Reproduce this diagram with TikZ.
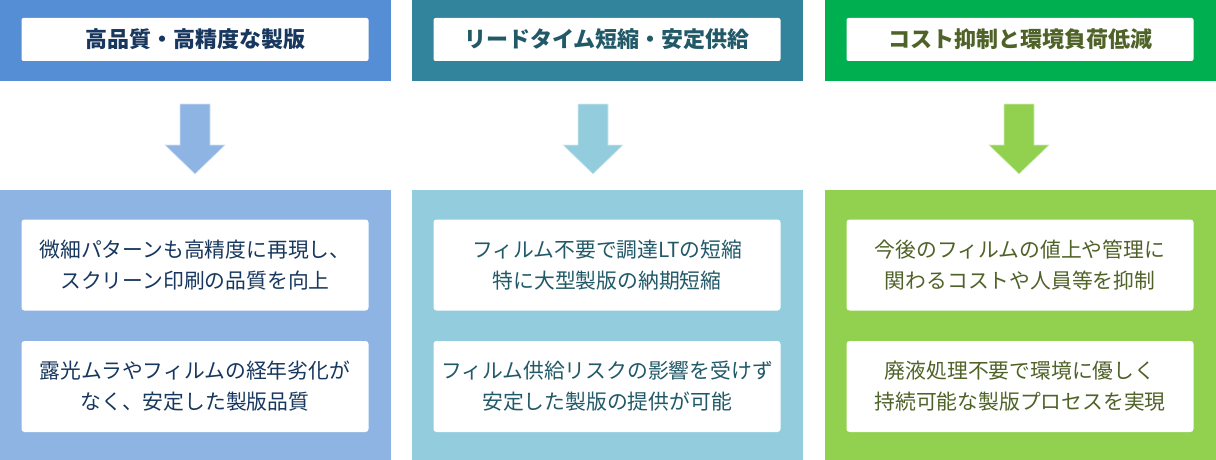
\documentclass[tikz,border=0pt]{standalone}
\usepackage{fontspec}
\setmainfont{Noto Sans CJK JP}
\usetikzlibrary{positioning}
\definecolor{headA}{HTML}{558ED5}
\definecolor{bodyA}{HTML}{8EB4E3}
\definecolor{textA}{HTML}{17375E}
\definecolor{headB}{HTML}{31849B}
\definecolor{bodyB}{HTML}{93CDDD}
\definecolor{textB}{HTML}{215968}
\definecolor{headC}{HTML}{00B050}
\definecolor{bodyC}{HTML}{92D050}
\definecolor{textC}{HTML}{4F6228}
\tikzset{
  titlebox/.style={fill=white,rounded corners=2pt,minimum width=347pt,minimum height=43pt,
    inner sep=0pt,font=\fontsize{22}{26}\selectfont\bfseries},
  itembox/.style={fill=white,rounded corners=3pt,minimum width=347pt,minimum height=91pt,
    inner sep=0pt,align=center,font=\fontsize{20.8}{31}\selectfont},
  blockarrow/.style={draw=white!60!#1,line width=0.6pt,fill=#1},
}

\begin{document}
\begin{tikzpicture}[x=1pt,y=-1pt]
	\useasboundingbox (0,0) rectangle (1216,460);
	% column backgrounds
	\fill [headA] (0,0) rectangle (391,81);
	\fill [bodyA] (0,190) rectangle (391,460);
	\fill [headB] (412,0) rectangle (803,81);
	\fill [bodyB] (412,190) rectangle (803,460);
	\fill [headC] (825,0) rectangle (1216,81);
	\fill [bodyC] (825,190) rectangle (1216,460);
	% titles
	\node (quality) at (195,39.5) [titlebox,text=textA] {高品質・高精度な製版};
	\node (leadtime) at (607,39.5) [titlebox,text=textB] {リードタイム短縮・安定供給};
	\node (cost) at (1020,39.5) [titlebox,text=textC] {コスト抑制と環境負荷低減};
	% block arrows
	\draw [blockarrow=bodyA] (180,104) -- (210,104) -- (210,145) -- (225,145) -- (195,174) -- (165,145) -- (180,145) -- cycle;
	\draw [blockarrow=bodyB] (578,104) -- (608,104) -- (608,145) -- (623,145) -- (593,174) -- (563,145) -- (578,145) -- cycle;
	\draw [blockarrow=bodyC] (1004,104) -- (1034,104) -- (1034,145) -- (1049,145) -- (1019,174) -- (989,145) -- (1004,145) -- cycle;
	% items
	\node (qualityone) at (195,265) [itembox,text=textA] {微細パターンも高精度に再現し、\\スクリーン印刷の品質を向上};
	\node (qualitytwo) at (195,386.5) [itembox,text=textA] {露光ムラやフィルムの経年劣化が\\なく、安定した製版品質};
	\node (leadtimeone) at (607,265) [itembox,text=textB] {フィルム不要で調達LTの短縮\\特に大型製版の納期短縮};
	\node (leadtimetwo) at (607,386.5) [itembox,text=textB] {フィルム供給リスクの影響を受けず\\安定した製版の提供が可能};
	\node (costone) at (1020,265) [itembox,text=textC] {今後のフィルムの値上や管理に\\関わるコストや人員等を抑制};
	\node (costtwo) at (1020,386.5) [itembox,text=textC] {廃液処理不要で環境に優しく\\持続可能な製版プロセスを実現};
\end{tikzpicture}
\end{document}
